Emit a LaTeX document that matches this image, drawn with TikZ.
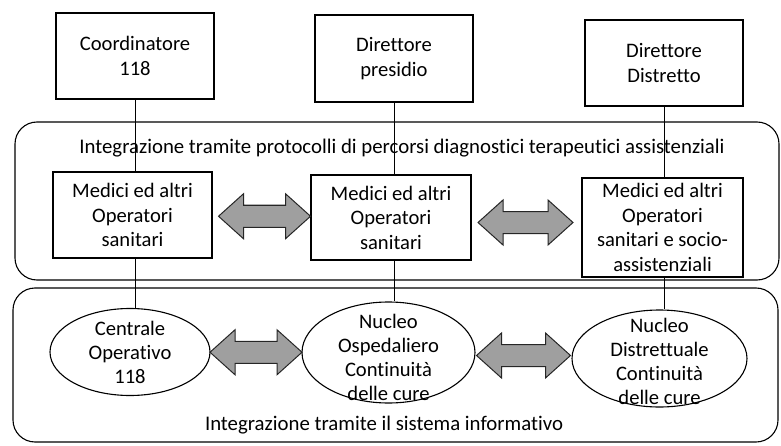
\documentclass[tikz,border=0pt]{standalone}
\usepackage{fontspec}
\setmainfont[Ligatures=NoCommon]{Carlito}
\usetikzlibrary{shapes.geometric}
\tikzset{
  x=1pt,y=1pt,
  topbox/.style={draw, line width=1.1pt, minimum width=158pt, minimum height=86pt, inner sep=1pt, align=center, font=\fontsize{20.6}{24.5}\selectfont},
  oval/.style={draw, ellipse, line width=1.1pt, inner sep=0pt},
  ovaltext/.style={align=center, inner sep=0pt, font=\fontsize{20.6}{24}\selectfont},
  container/.style={draw, line width=1.1pt, rounded corners=22pt},
  lbl/.style={font=\fontsize{20.8}{24}\selectfont, inner sep=0pt},
  link/.style={line width=0.6pt},
  arrowfill/.style={draw=black!85, line width=1pt, fill=gray!75},
  pics/dbl/.style={code={
    \draw[arrowfill] (-#1,0) -- (-#1+25,22.5) -- (-#1+25,11) -- (#1-25,11) -- (#1-25,22.5) -- (#1,0)
      -- (#1-25,-22.5) -- (#1-25,-11) -- (-#1+25,-11) -- (-#1+25,-22.5) -- cycle;
  }}
}
\begin{document}
\begin{tikzpicture}
\useasboundingbox (0,0) rectangle (781,445);
% containers
\draw[container] (15,165) rectangle (779,323);
\draw[container] (13,3) rectangle (778,157);
\node[lbl] (lbltop) at (402,297) {Integrazione tramite protocolli di percorsi diagnostici terapeutici assistenziali};
\node[lbl] (lblbot) at (384,20) {Integrazione tramite il sistema informativo};
% top boxes
\node[topbox] (c1) at (135,389) {Coordinatore\\118};
\node[topbox, minimum height=87pt] (c2) at (394,386.5) {Direttore\\presidio};
\node[topbox] (c3) at (664,382) {Direttore\\Distretto};
% middle boxes
\node[topbox, minimum width=159pt] (m1) at (132.5,230) {Medici ed altri\\Operatori\\sanitari};
\node[topbox, minimum width=160pt, minimum height=85pt] (m2) at (391,227.5) {Medici ed altri\\Operatori\\sanitari};
\node[topbox, minimum width=161pt, minimum height=99pt, inner sep=0pt] (m3) at (662.5,217.5) {Medici ed altri\\Operatori\\sanitari e socio-\\assistenziali};
% ellipses
\node[oval, minimum width=160pt, minimum height=87pt] (e1) at (130,93) {};
\node[oval, minimum width=173pt, minimum height=101pt] (e2) at (388.5,92.5) {};
\node[oval, minimum width=175pt, minimum height=97pt] (e3) at (659.5,86.5) {};
\node[ovaltext] (t1) at (130,93) {Centrale\\Operativo\\118};
\node[ovaltext] (t2) at (388.5,88) {Nucleo\\Ospedaliero\\Continuità\\delle cure};
\node[ovaltext] (t3) at (659.5,84) {Nucleo\\Distrettuale\\Continuità\\delle cure};
% vertical links
\draw[link] (c1.south) -- (c1.south |- m1.north);
\draw[link] (m1.south -| c1.south) -- (c1.south |- e1.north);
\draw[link] (c2.south) -- (c2.south |- m2.north);
\draw[link] (m2.south -| c2.south) -- (c2.south |- e2.north);
\draw[link] (c3.south) -- (c3.south |- m3.north);
\draw[link] (m3.south -| c3.south) -- (c3.south |- e3.north);
% double arrows
\path (m1.east) -- (m2.west) coordinate[pos=0.5] (a1);
\pic at ([xshift=3pt]a1) {dbl=46};
\path (m2.east) -- (m3.west) coordinate[pos=0.5] (a2);
\pic at ([xshift=-1pt]a2) {dbl=47.5};
\path (e1.east) -- (e2.west) coordinate[pos=0.5] (a3);
\pic at (a3) {dbl=46};
\path (e2.east) -- (e3.west) coordinate[pos=0.5] (a4);
\pic at (a4) {dbl=47};
\end{tikzpicture}
\end{document}
